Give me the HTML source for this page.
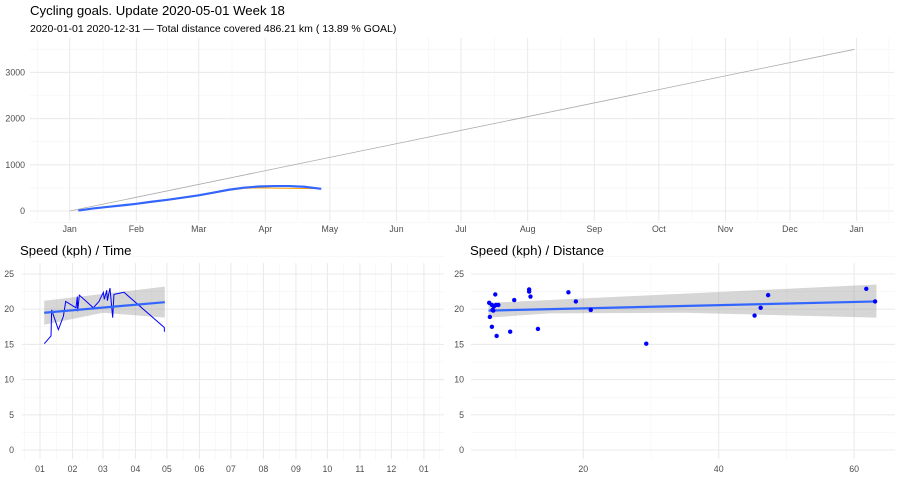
<!DOCTYPE html>
<html><head><meta charset="utf-8"><style>
html,body{margin:0;padding:0;background:#fff;}
svg{display:block;font-family:"Liberation Sans",sans-serif;}
.g{stroke:#ebebeb;stroke-width:1.1;}
.gm{stroke:#f3f3f3;stroke-width:0.6;}
.t{fill:#4d4d4d;font-size:8.8px;}
</style></head><body>
<svg id="c" width="900" height="480" viewBox="0 0 900 480">
<text x="30" y="15" font-size="13.2" fill="#000">Cycling goals. Update 2020-05-01 Week 18</text>
<text x="30" y="32" font-size="10.5" fill="#000">2020-01-01 2020-12-31 — Total distance covered 486.21 km ( 13.89 % GOAL)</text>
<text x="20" y="255" font-size="13.2" fill="#000">Speed (kph) / Time</text>
<text x="470" y="255" font-size="13.2" fill="#000">Speed (kph) / Distance</text>
</svg>
<script>
// ---- top chart data ----
const monthLabels=["Jan","Feb","Mar","Apr","May","Jun","Jul","Aug","Sep","Oct","Nov","Dec","Jan"];
const monthDays=[0,31,60,91,121,152,182,213,244,274,305,335,366];
const yTicksTop=[0,1000,2000,3000];
const goalDays=[0,365];
const goalKm=[0,3500];
const cumDays=[4,11,18,25,31,38,45,52,60,67,74,81,88,95,102,109,117];
const cumKm=[20,60,95,120,150,190,230,275,330,390,450,490,500,495,490,488,486];
const smoothKm=[10,55,90,125,155,200,240,285,340,400,460,505,530,540,540,525,480];
// ---- speed/time ----
const tDays=[4.1,10.5,11.1,17.5,22.3,24.5,34.3,35.6,35.9,37.5,50.8,56.2,60.4,61.3,63.6,64.2,66.7,69.3,70.5,80.1,118.5,118.6];
const tSpeed=[15.1,16.2,19.9,17.1,19.0,21.1,20.2,21.8,19.7,22.0,20.2,21.1,22.4,21.4,22.7,21.2,23.0,18.8,22.1,22.4,17.4,16.8];
const tFitDays=[4,119];
const tFit=[19.5,21.0];
const tBandLo=[17.8,18.8];
const tBandHi=[21.2,23.2];
const tMid=[19.4,19.5];
const tickMonths=["01","02","03","04","05","06","07","08","09","10","11","12","01"];
const speedTicks=[0,5,10,15,20,25];
// ---- speed/distance ----
const dDist=[6.1,6.2,6.5,6.6,6.7,6.8,7.0,7.1,7.2,7.45,9.2,9.8,12.0,12.0,12.2,13.3,17.8,18.9,21.1,29.3,45.3,46.2,47.3,61.8,63.1,6.5];
const dSpeed=[20.9,18.9,17.5,19.9,19.8,20.4,22.1,20.6,16.2,20.6,16.8,21.3,22.8,22.5,21.8,17.2,22.4,21.1,19.9,15.1,19.1,20.2,22.0,22.9,21.1,20.6];
const dTicks=[20,40,60];
const dFitX=[6,63.3];
const dFit=[19.8,21.1];
const dLo=[18.8,18.8];
const dHi=[20.9,23.5];

const svg=document.getElementById('c');
const NS='http://www.w3.org/2000/svg';
function mk(tag,attrs,parent){const e=document.createElementNS(NS,tag);for(const k in attrs)e.setAttribute(k,attrs[k]);(parent||svg).appendChild(e);return e;}

// scales
const xTop=d=>69.7+d*2.150;
const yTop=v=>211-v*0.0462;
const xT=d=>40+d*1.049;
const yS=v=>450-v*7.04;
const xD=v=>447.9+v*6.77;

// top grid
const gTop=mk('g',{});


for(let i=0;i<yTicksTop.length;i++){
  const v=yTicksTop[i];
  mk('line',{x1:30,x2:894,y1:yTop(v),y2:yTop(v),class:'g'},gTop);
  mk('line',{x1:30,x2:894,y1:yTop(v+500),y2:yTop(v+500),class:'gm'},gTop);
  const t=mk('text',{x:25,y:yTop(v)+3,'text-anchor':'end',class:'t'});
  t.textContent=v;
  
  
}
mk('line',{x1:30,x2:894,y1:yTop(-250)+0,y2:yTop(-250),class:'gm'},gTop);
for(let i=0;i<monthDays.length;i++){
  const x=xTop(monthDays[i]);
  mk('line',{x1:x,x2:x,y1:38,y2:221,class:'g'},gTop);
  if(i<monthDays.length-1){const xm=(x+xTop(monthDays[i+1]))/2;mk('line',{x1:xm,x2:xm,y1:38,y2:221,class:'gm'},gTop);}
  const t=mk('text',{x:x,y:232,'text-anchor':'middle',class:'t'});
  t.textContent=monthLabels[i];
  
  
}
[xTop(-15),xTop(381)].forEach(x=>mk('line',{x1:x,x2:x,y1:38,y2:221,class:'gm'},gTop));
// goal line
const goal=mk('line',{x1:xTop(goalDays[0]),y1:yTop(goalKm[0]),x2:xTop(goalDays[1]),y2:yTop(goalKm[1]),stroke:'#aaaaaa','stroke-width':0.8});


const cum=mk('polyline',{points:cumDays.map((d,i)=>xTop(d)+','+yTop(cumKm[i])).join(' '),fill:'none',stroke:'#ffa500','stroke-width':1});


const sm=mk('polyline',{points:cumDays.map((d,i)=>xTop(d)+','+yTop(smoothKm[i])).join(' '),fill:'none',stroke:'#3366ff','stroke-width':2.2,'stroke-linejoin':'round'});



// bottom-left grid
const gL=mk('g',{});


for(let i=0;i<speedTicks.length;i++){
  const v=speedTicks[i];
  mk('line',{x1:22,x2:444,y1:yS(v),y2:yS(v),class:'g'},gL);
  mk('line',{x1:22,x2:444,y1:yS(v+2.5),y2:yS(v+2.5),class:'gm'},gL);
  const t=mk('text',{x:14,y:yS(v)+3,'text-anchor':'end',class:'t'});
  t.textContent=v;
  
  
}
for(let i=0;i<monthDays.length;i++){
  const x=xT(monthDays[i]);
  mk('line',{x1:x,x2:x,y1:263,y2:459,class:'g'},gL);
  if(i<monthDays.length-1){const xm=(x+xT(monthDays[i+1]))/2;mk('line',{x1:xm,x2:xm,y1:263,y2:459,class:'gm'},gL);}
  const t=mk('text',{x:x,y:472,'text-anchor':'middle',class:'t'});
  t.textContent=tickMonths[i];
  
  
}
[xT(-15),xT(381)].forEach(x=>mk('line',{x1:x,x2:x,y1:263,y2:459,class:'gm'},gL));
const tb=mk('polygon',{points:[xT(tFitDays[0])+','+yS(tBandHi[0]),xT(tFitDays[1])+','+yS(tBandHi[1]),xT(tFitDays[1])+','+yS(tBandLo[1]),xT(60)+','+yS(tMid[1]),xT(tFitDays[0])+','+yS(tBandLo[0])].join(' '),fill:'#999','fill-opacity':0.4});


const tl=mk('polyline',{points:tDays.map((d,i)=>xT(d)+','+yS(tSpeed[i])).join(' '),fill:'none',stroke:'#0000ff','stroke-width':1});


const tf=mk('line',{x1:xT(tFitDays[0]),y1:yS(tFit[0]),x2:xT(tFitDays[1]),y2:yS(tFit[1]),stroke:'#3366ff','stroke-width':2.2});



// bottom-right grid
const gR=mk('g',{});


for(let i=0;i<speedTicks.length;i++){
  const v=speedTicks[i];
  mk('line',{x1:471,x2:895,y1:yS(v),y2:yS(v),class:'g'},gR);
  mk('line',{x1:471,x2:895,y1:yS(v+2.5),y2:yS(v+2.5),class:'gm'},gR);
  const t=mk('text',{x:464,y:yS(v)+3,'text-anchor':'end',class:'t'});
  t.textContent=v;
  
  
}
for(let i=0;i<dTicks.length;i++){
  const x=xD(dTicks[i]);
  mk('line',{x1:x,x2:x,y1:263,y2:459,class:'g'},gR);
  mk('line',{x1:xD(dTicks[i]-10),x2:xD(dTicks[i]-10),y1:263,y2:459,class:'gm'},gR);
  const t=mk('text',{x:x,y:472,'text-anchor':'middle',class:'t'});
  t.textContent=dTicks[i];
  
  
}
const db=mk('polygon',{points:[xD(dFitX[0])+','+yS(dHi[0]),xD(dFitX[1])+','+yS(dHi[1]),xD(dFitX[1])+','+yS(dLo[1]),xD(35)+','+yS(19.5),xD(15)+','+yS(19.4),xD(dFitX[0])+','+yS(dLo[0])].join(' '),fill:'#999','fill-opacity':0.4});


const df=mk('line',{x1:xD(dFitX[0]),y1:yS(dFit[0]),x2:xD(dFitX[1]),y2:yS(dFit[1]),stroke:'#3366ff','stroke-width':2.2});


for(let i=0;i<dDist.length;i++){
  const p=mk('circle',{cx:xD(dDist[i]),cy:yS(dSpeed[i]),r:2.2,fill:'#0000ff'});
  
  
}
</script>
</body></html>
